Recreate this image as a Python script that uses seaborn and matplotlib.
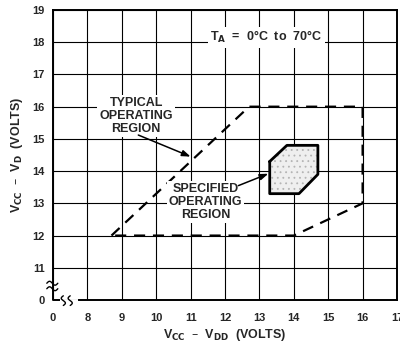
import matplotlib
matplotlib.use("Agg")
import matplotlib.pyplot as plt
import numpy as np
import seaborn as sns

# Typical operating region (dashed outline), V_CC - V_DD vs V_CC - V_D
typ_x = [8.7, 12.7, 16.0, 16.0, 14.0, 8.7]
typ_y = [12.0, 16.0, 16.0, 13.0, 12.0, 12.0]

# Specified operating region (solid outline, stippled)
spec_x = [13.3, 13.8, 14.7, 14.7, 14.15, 13.3, 13.3]
spec_y = [14.3, 14.8, 14.8, 13.9, 13.3, 13.3, 14.3]

# Axis ticks (the low end of each axis is a broken "0")
x_ticks = [7, 8, 9, 10, 11, 12, 13, 14, 15, 16, 17]
x_labels = ["0", "8", "9", "10", "11", "12", "13", "14", "15", "16", "17"]
y_ticks = [10, 11, 12, 13, 14, 15, 16, 17, 18, 19]
y_labels = ["0", "11", "12", "13", "14", "15", "16", "17", "18", "19"]

sns.set_style("white")
plt.rcParams["font.family"] = ["Liberation Sans", "DejaVu Sans"]
plt.rcParams["font.weight"] = "bold"

fig = plt.figure(figsize=(4.0, 3.49), dpi=100)
ax = fig.add_axes([0.1325, 0.1404, 0.86, 0.8309])

ax.set_xlim(7, 17)
ax.set_ylim(10, 19)
ax.set_xticks(x_ticks)
ax.set_xticklabels(x_labels, fontsize=8, fontweight="bold")
ax.set_yticks(y_ticks)
ax.set_yticklabels(y_labels, fontsize=8, fontweight="bold")
ax.tick_params(axis="x", length=0, pad=9)
ax.tick_params(axis="y", length=0, pad=6)
ax.grid(True, color="black", linewidth=0.8)
ax.set_axisbelow(True)
for s in ax.spines.values():
    s.set_color("black")
    s.set_linewidth(1.4)

# Typical region outline
sns.lineplot(x=typ_x, y=typ_y, sort=False, estimator=None, ax=ax,
             color="black", linewidth=1.6, zorder=3)
ax.lines[-1].set_dashes([5, 3.5])

# Specified region: stippled fill with thick outline
plt.rcParams["hatch.color"] = "#b4b4b4"
plt.rcParams["hatch.linewidth"] = 0.6
ax.fill(spec_x, spec_y, facecolor="#efefef", edgecolor="none", zorder=3)
ax.fill(spec_x, spec_y, facecolor="none", edgecolor="#b4b4b4", hatch="...",
        linewidth=0, zorder=3)
sns.lineplot(x=spec_x, y=spec_y, sort=False, estimator=None, ax=ax,
             color="black", linewidth=2.0, zorder=4)

txt_kw = dict(fontsize=9, fontweight="bold", ha="center", va="center",
              linespacing=1.1, zorder=5,
              bbox=dict(facecolor="white", edgecolor="none", pad=1.5))

ax.text(13.2, 18.15, "T$_\\mathbf{A}$  =  0°C  to  70°C", **txt_kw)
ax.text(9.42, 15.72, "TYPICAL\nOPERATING\nREGION", **txt_kw)
ax.text(11.43, 13.05, "SPECIFIED\nOPERATING\nREGION", **txt_kw)

arrow = dict(arrowstyle="-|>,head_length=0.5,head_width=0.18", color="black",
             linewidth=1.1, shrinkA=0, shrinkB=0)
ax.annotate("", xy=(11.0, 14.45), xytext=(9.48, 15.12), arrowprops=arrow, zorder=5)
ax.annotate("", xy=(13.26, 13.92), xytext=(12.39, 13.55), arrowprops=arrow, zorder=5)

ax.set_xlabel("V$_{\\mathbf{CC}}$  –  V$_{\\mathbf{DD}}$  (VOLTS)", fontsize=9,
              fontweight="bold", labelpad=3)
ax.set_ylabel("V$_{\\mathbf{CC}}$  –  V$_{\\mathbf{D}}$  (VOLTS)", fontsize=9,
              fontweight="bold", labelpad=5)

# Axis breaks near the origin
ax.spines["left"].set_bounds(10.25, 19)
ax.spines["bottom"].set_bounds(7.75, 17)
ax.plot([7, 7, 7.2], [10.22, 10, 10], color="black", linewidth=1.4,
        clip_on=False, zorder=6, solid_capstyle="butt")
t = np.linspace(0, 1, 30)
for yc in (10.35, 10.52):
    xs = 6.82 + 0.32 * t
    ys = yc + 0.06 * np.sin(2 * np.pi * t)
    ax.plot(xs, ys, color="black", linewidth=1.0, clip_on=False, zorder=6)
for xc in (7.3, 7.5):
    ys = 9.83 + 0.3 * t
    xs = xc + 0.06 * np.sin(2 * np.pi * t)
    ax.plot(xs, ys, color="black", linewidth=1.0, clip_on=False, zorder=6)

fig.savefig("out.png", dpi=100)
